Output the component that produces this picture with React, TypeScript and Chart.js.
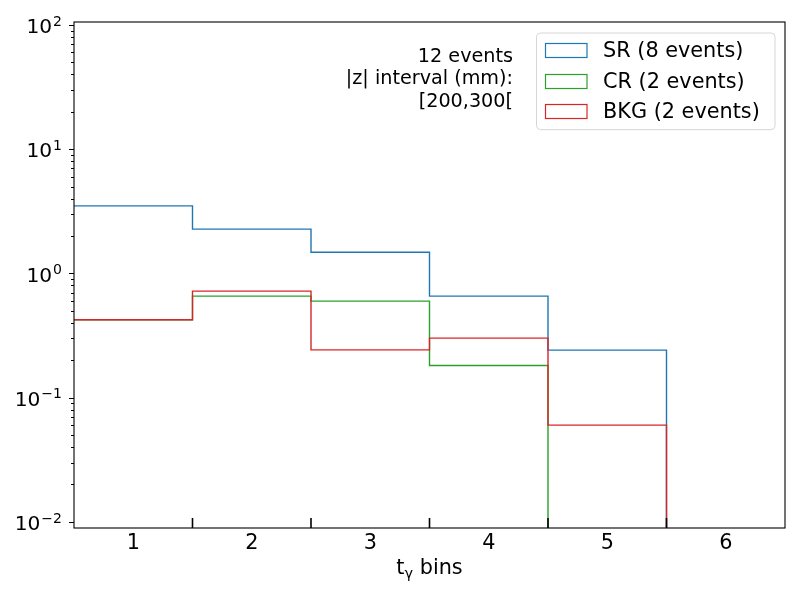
import { useEffect, useRef } from "react";
import { Chart, registerables } from "chart.js";

Chart.register(...registerables);

// bins of t_gamma
const BIN_CENTERS = [1, 2, 3, 4, 5, 6];
const BIN_EDGES = [0.5, 1.5, 2.5, 3.5, 4.5, 5.5, 6.5];

// per-bin values (0 = empty bin)
const SR_VALUES = [3.49, 2.27, 1.48, 0.656, 0.241, 0];
const CR_VALUES = [0.423, 0.656, 0.597, 0.181, 0, 0];
const BKG_VALUES = [0.423, 0.719, 0.242, 0.301, 0.06, 0];

const SERIES_LABELS = ["SR (8 events)", "CR (2 events)", "BKG (2 events)"];
const SERIES_COLORS = ["#1f77b4", "#2ca02c", "#d62728"];

const NOTE_LINES = ["12 events", "|z| interval (mm):", "[200,300["];

const Y_DECADES = [-2, -1, 0, 1, 2];
const Y_MIN = 0.00891;
const Y_MAX = 105.5;
const EMPTY_FLOOR = 1e-5;

const FONT = "'DejaVu Sans', sans-serif";
const BIG = 20.8;

function stepPoints(values: number[]) {
  const pts = values.map((v, i) => ({ x: BIN_EDGES[i], y: v > 0 ? v : EMPTY_FLOOR }));
  pts.push({ x: BIN_EDGES[values.length], y: pts[pts.length - 1].y });
  return pts;
}

const decorPlugin = {
  id: "decor",
  afterDraw(chart: Chart) {
    const ctx = chart.ctx;
    const a = chart.chartArea;
    const xs = chart.scales.x;
    const ys = chart.scales.y;
    ctx.save();

    // frame
    ctx.strokeStyle = "#000";
    ctx.lineWidth = 1.1;
    ctx.strokeRect(a.left, a.top, a.right - a.left, a.bottom - a.top);

    // y ticks (major + minor)
    ctx.lineWidth = 1;
    for (const e of Y_DECADES) {
      for (let k = 1; k <= 9; k++) {
        const v = k * Math.pow(10, e);
        if (v < Y_MIN || v > Y_MAX) continue;
        const y = Math.round(ys.getPixelForValue(v)) + 0.5;
        const len = k === 1 ? 5 : 3;
        ctx.beginPath();
        ctx.moveTo(a.left - len, y);
        ctx.lineTo(a.left, y);
        ctx.stroke();
      }
    }

    // y labels 10^e
    ctx.fillStyle = "#000";
    ctx.textAlign = "right";
    ctx.textBaseline = "alphabetic";
    for (const e of Y_DECADES) {
      const y = ys.getPixelForValue(Math.pow(10, e));
      const exp = e < 0 ? "\u2212" + Math.abs(e) : String(e);
      ctx.font = `14px ${FONT}`;
      const ew = ctx.measureText(exp).width;
      ctx.fillText(exp, 62, y + 0.8);
      ctx.font = `20.2px ${FONT}`;
      ctx.fillText("10", 62 - ew - 1, y + 8.3);
    }

    // x tick labels
    ctx.textAlign = "center";
    ctx.font = `${BIG}px ${FONT}`;
    for (const c of BIN_CENTERS) {
      ctx.fillText(String(c), xs.getPixelForValue(c), 549);
    }

    // inner marks at bin edges
    ctx.lineWidth = 1.6;
    for (const edge of BIN_EDGES.slice(1, -1)) {
      const x = xs.getPixelForValue(edge);
      ctx.beginPath();
      ctx.moveTo(x, a.bottom);
      ctx.lineTo(x, a.bottom - 10);
      ctx.stroke();
    }

    // x title: t_gamma bins
    ctx.textAlign = "left";
    ctx.font = `${BIG}px ${FONT}`;
    const wt = ctx.measureText("t").width;
    const wb = ctx.measureText(" bins").width;
    ctx.font = `14.5px ${FONT}`;
    const wg = ctx.measureText("\u03b3").width;
    const x0 = (a.left + a.right) / 2 - (wt + wg + wb) / 2;
    const base = 574;
    ctx.font = `${BIG}px ${FONT}`;
    ctx.fillText("t", x0, base);
    ctx.font = `14.5px ${FONT}`;
    ctx.fillText("\u03b3", x0 + wt, base + 3.5);
    ctx.font = `${BIG}px ${FONT}`;
    ctx.fillText(" bins", x0 + wt + wg, base);

    // note text
    ctx.textAlign = "right";
    ctx.font = `19.2px ${FONT}`;
    const noteBase = [61.7, 84.3, 106.7];
    NOTE_LINES.forEach((t, i) => ctx.fillText(t, 513, noteBase[i]));

    // legend
    const lx = 536.5, ly = 33, lw = 238.5, lh = 96.7;
    ctx.beginPath();
    ctx.roundRect(lx, ly, lw, lh, 4);
    ctx.fillStyle = "rgba(255,255,255,0.8)";
    ctx.fill();
    ctx.strokeStyle = "#d6d6d6";
    ctx.lineWidth = 1;
    ctx.stroke();
    const rowC = [50.2, 80.8, 110.8];
    ctx.textAlign = "left";
    ctx.font = `${BIG}px ${FONT}`;
    SERIES_LABELS.forEach((label, i) => {
      ctx.strokeStyle = SERIES_COLORS[i];
      ctx.lineWidth = 1.2;
      ctx.strokeRect(545.5, Math.round(rowC[i] - 7) + 0.5, 41.5, 14);
      ctx.fillStyle = "#000";
      ctx.fillText(label, 603, rowC[i] + 7.2);
    });

    ctx.restore();
  },
};

function HistChart() {
  const ref = useRef<HTMLCanvasElement>(null);
  const instance = useRef<Chart | null>(null);

  useEffect(() => {
    if (!ref.current) return;
    document.body.style.margin = "0";
    instance.current?.destroy();
    const series = [SR_VALUES, CR_VALUES, BKG_VALUES];
    instance.current = new Chart(ref.current, {
      type: "line",
      data: {
        datasets: series.map((vals, i) => ({
          label: SERIES_LABELS[i],
          data: stepPoints(vals),
          borderColor: SERIES_COLORS[i],
          borderWidth: 1.4,
          pointRadius: 0,
          fill: false,
          stepped: "before" as const,
          order: series.length - i,
        })),
      },
      options: {
        animation: false,
        responsive: false,
        layout: { padding: { top: 22, right: 15, left: 0, bottom: 0 } },
        plugins: { legend: { display: false }, tooltip: { enabled: false } },
        scales: {
          x: {
            type: "linear",
            min: 0.5,
            max: 6.5,
            grid: { display: false },
            border: { display: false },
            ticks: { display: false },
            afterFit: (s: any) => {
              s.height = 72;
            },
          },
          y: {
            type: "logarithmic",
            min: Y_MIN,
            max: Y_MAX,
            grid: { display: false },
            border: { display: false },
            ticks: { display: false },
            afterFit: (s: any) => {
              s.width = 74;
            },
          },
        },
      },
      plugins: [decorPlugin],
    });
    return () => instance.current?.destroy();
  }, []);

  return <canvas ref={ref} width={800} height={600} />;
}

export default function App() {
  return (
    <div style={{ width: 800, height: 600, background: "#fff" }}>
      <HistChart />
    </div>
  );
}
